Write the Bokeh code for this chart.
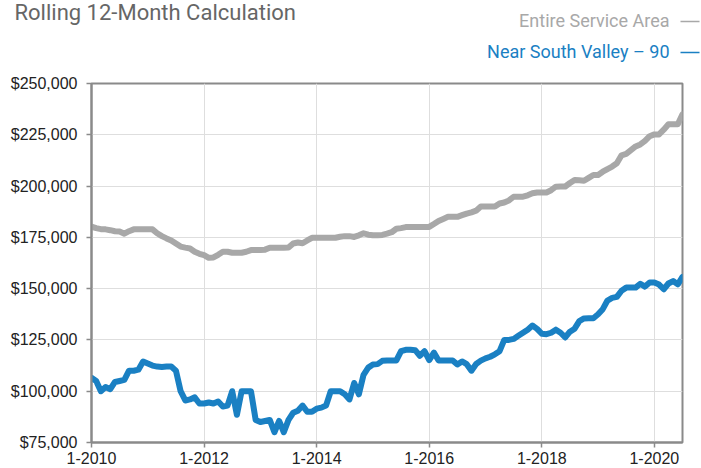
from bokeh.plotting import figure
from bokeh.layouts import column
from bokeh.models import FixedTicker, NumeralTickFormatter, Range1d
from bokeh.core.properties import value
from bokeh.embed import file_html
from bokeh.resources import INLINE

# ---------------- data ----------------
start_year = 2010  # month index 0 = January 2010
tick_months = [0, 24, 48, 72, 96, 120]
tick_labels = ["1-2010", "1-2012", "1-2014", "1-2016", "1-2018", "1-2020"]
y_ticks = [75000, 100000, 125000, 150000, 175000, 200000, 225000, 250000]

entire_service_area = [
    180200, 179500, 179000, 178900, 178500, 178000, 177800, 176800, 178000, 178900,
    179000, 179000, 179000, 178900, 177000, 175600, 174500, 173500, 172000, 170500,
    170000, 169600, 168000, 167000, 166300, 165000, 165200, 166500, 168000, 168000,
    167500, 167500, 167500, 168000, 168800, 168800, 168800, 169000, 169900, 169900,
    169900, 169900, 170000, 172000, 172500, 172100, 173500, 174800, 174800, 174800,
    174800, 174800, 174800, 175300, 175600, 175600, 175200, 176000, 177000, 176300,
    176000, 176000, 176200, 176800, 177500, 179200, 179500, 180000, 180100, 180100,
    180100, 180100, 180100, 181500, 183000, 184000, 185000, 185000, 185000, 185800,
    186600, 187200, 188000, 190000, 190000, 190000, 190000, 191500, 192000, 193000,
    194800, 194800, 194800, 195500, 196500, 196900, 196900, 196900, 198000, 199700,
    199800, 199800, 201500, 203000, 202800, 202600, 204000, 205400, 205400, 207000,
    208300, 209500, 211100, 215000, 215700, 217500, 219300, 220300, 222000, 224300,
    225200, 225200, 227500, 230100, 230100, 230100, 235000,
]

near_south_valley = [
    106500, 105000, 100000, 102000, 101000, 104500, 105000, 105500, 110000, 110000,
    110500, 114500, 113500, 112500, 112000, 111800, 112000, 112000, 110000, 100000,
    95500, 96000, 97000, 94000, 94000, 94500, 94000, 95000, 92500, 93000,
    100000, 88500, 100000, 100000, 100000, 86000, 85000, 85500, 86000, 80000,
    85500, 80000, 86000, 89500, 90500, 93000, 90000, 90000, 91500, 92000,
    93000, 100000, 100000, 100000, 98500, 96000, 104000, 98500, 108000, 111500,
    113000, 113200, 114800, 115000, 115000, 115000, 119500, 120200, 120200, 120000,
    117300, 119500, 115200, 118800, 115000, 115000, 115000, 115000, 113000, 114500,
    113200, 110000, 113300, 114900, 116000, 116800, 118000, 119500, 125000, 125000,
    125500, 127000, 128500, 130000, 132000, 130400, 128000, 127800, 128500, 130000,
    128500, 126200, 129000, 130500, 134200, 135500, 135600, 135600, 137500, 140000,
    144200, 145500, 146000, 149000, 150500, 150500, 150500, 152400, 151000, 153000,
    153000, 152000, 149700, 152500, 153700, 152100, 155700,
]

series_names = ["Entire Service Area", "Near South Valley \u2013 90"]
title_text = "Rolling 12-Month Calculation"

months = list(range(len(entire_service_area)))

# ---------------- layout ----------------
W, H = 701, 468
HEAD = 73                      # height of the header strip (title + legend)
FL, FR, FT, FB = 91, 682, 83, 442   # frame edges on the page
X0, X1 = 0, 126
Y0, Y1 = 75000, 250000

GRAY = "#a8a8a8"
BLUE = "#1a80c3"
AXIS = "#8a8a8a"
GRID = "#dedede"

# header: pixel coordinates, y measured from the top
head = figure(width=W, height=HEAD, output_backend="svg", toolbar_location=None,
              x_range=Range1d(0, W), y_range=Range1d(HEAD, 0),
              min_border=0, outline_line_color=None,
              x_axis_location=None, y_axis_location=None)
head.frame_align = False
head.grid.visible = False
head.text(x=[14], y=[12], text=[title_text], text_font=value("Roboto"),
          text_font_size="22px", text_color="#666666",
          text_baseline="alphabetic", text_align="left")
head.text(x=[669, 669], y=[20, 51], text=series_names,
          text_font=value("Roboto"), text_font_size="18px",
          text_color=[GRAY, BLUE], text_baseline="alphabetic", text_align="right")
head.segment(x0=[680, 680], y0=[21, 52], x1=[699, 699], y1=[21, 52],
             line_color=[GRAY, BLUE], line_width=1.5)

# main chart
p = figure(width=W, height=H - HEAD, output_backend="svg", toolbar_location=None,
           x_range=Range1d(X0, X1), y_range=Range1d(Y0, Y1),
           min_border_left=FL, min_border_right=W - FR, min_border_top=FT - HEAD,
           min_border_bottom=H - FB)
p.frame_align = False

p.outline_line_color = AXIS
p.outline_line_width = 2
p.background_fill_color = "white"
p.border_fill_color = "white"

p.xaxis.ticker = FixedTicker(ticks=tick_months)
p.xaxis.major_label_overrides = {m: l for m, l in zip(tick_months, tick_labels)}
p.yaxis.ticker = FixedTicker(ticks=y_ticks)
p.yaxis.formatter = NumeralTickFormatter(format="$0,0")

for ax in (p.xaxis, p.yaxis):
    ax.axis_line_color = AXIS
    ax.axis_line_width = 2
    ax.major_tick_line_color = AXIS
    ax.major_tick_line_width = 1.5
    ax.major_tick_in = 0
    ax.major_tick_out = 5
    ax.minor_tick_line_color = None
    ax.major_label_text_font = "Liberation Sans"
    ax.major_label_text_font_size = "16px"
    ax.major_label_text_color = "#222222"
p.xaxis.major_label_standoff = 4
p.yaxis.major_label_standoff = 9

p.xgrid.grid_line_color = GRID
p.ygrid.grid_line_color = GRID
p.xgrid.grid_line_width = 1
p.ygrid.grid_line_width = 1

p.line(months, entire_service_area, line_color=GRAY, line_width=6,
       line_join="round", line_cap="round")
p.line(months, near_south_valley, line_color=BLUE, line_width=6,
       line_join="round", line_cap="round")

layout = column(head, p, spacing=0)
open("out.html", "w").write(file_html(layout, INLINE))
